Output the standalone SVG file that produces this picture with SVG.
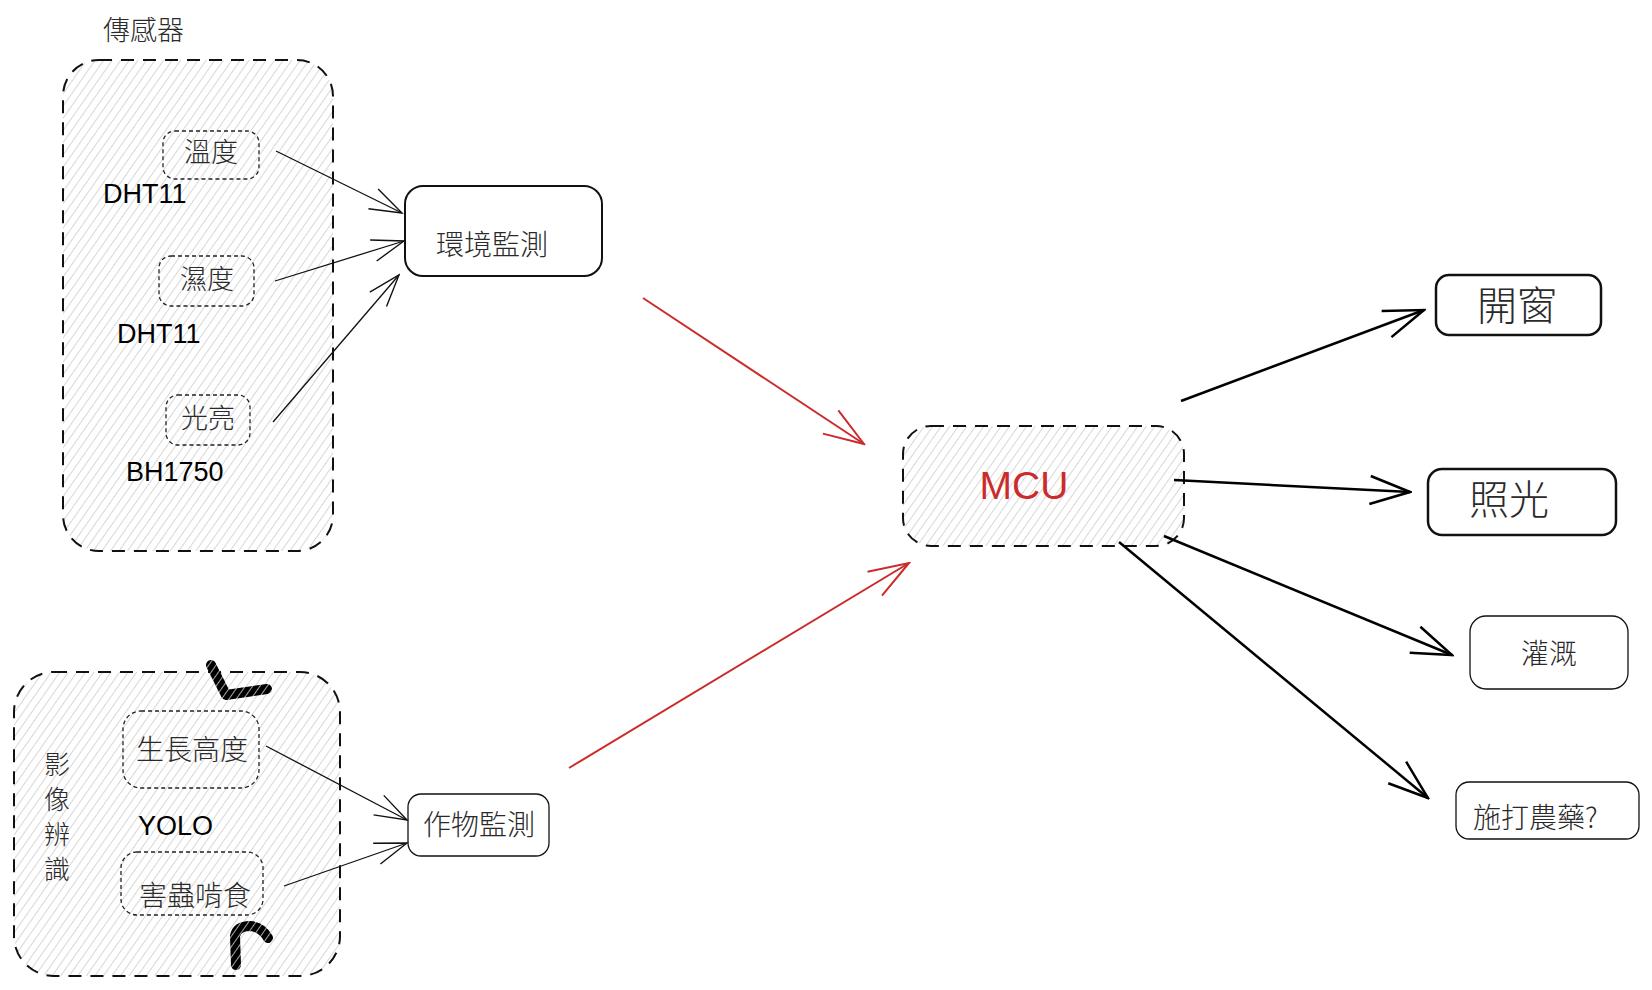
<svg xmlns="http://www.w3.org/2000/svg" width="1652" height="990" viewBox="0 0 1652 990">
<style>
.cjk{font-family:"Noto Sans CJK TC","Noto Sans CJK SC",sans-serif;font-weight:300;fill:#2a2a2a;}
.lat{font-family:"Liberation Sans",Arial,sans-serif;fill:#000;}
.cont{fill:url(#hatch);stroke:#111;stroke-width:2;stroke-dasharray:13 9;}
.inner{fill:none;stroke:#222;stroke-width:1.3;stroke-dasharray:4 3;}
.box{fill:#fff;stroke:#111;}
.thin{fill:none;stroke:#111;stroke-width:1.3;}
.blk{fill:none;stroke:#000;stroke-width:2.5;}
.red{fill:none;stroke:#cc2b2b;stroke-width:2;}
</style>
<defs>
<pattern id="hatch" width="7" height="7" patternUnits="userSpaceOnUse" patternTransform="rotate(35)">
<rect width="7" height="7" fill="#fff"/>
<line x1="0" y1="0" x2="0" y2="7" stroke="#bdbdbd" stroke-width="1.2"/>
</pattern>
<pattern id="hatchDark" width="6" height="6" patternUnits="userSpaceOnUse" patternTransform="rotate(35)">
<rect width="6" height="6" fill="#000"/>
<line x1="0" y1="0" x2="0" y2="6" stroke="#fff" stroke-width="1.3"/>
</pattern>
<marker id="aThin" viewBox="0 0 36 26" refX="34" refY="13" markerWidth="36" markerHeight="26" markerUnits="userSpaceOnUse" orient="auto">
<path d="M2,2 L34,13 L2,24" fill="none" stroke="#111" stroke-width="1.4"/>
</marker>
<marker id="aBlk" viewBox="0 0 44 32" refX="42" refY="16" markerWidth="44" markerHeight="32" markerUnits="userSpaceOnUse" orient="auto">
<path d="M2,2 L42,16 L2,30" fill="none" stroke="#000" stroke-width="2.5"/>
</marker>
<marker id="aRed" viewBox="0 0 44 32" refX="42" refY="16" markerWidth="44" markerHeight="32" markerUnits="userSpaceOnUse" orient="auto">
<path d="M2,2 L42,16 L2,30" fill="none" stroke="#cc2b2b" stroke-width="2"/>
</marker>
</defs>
<rect width="1652" height="990" fill="#fff"/>

<g id="sensors">
<text class="cjk" x="103" y="40" font-size="27">傳感器</text>
<rect class="cont" x="63" y="60" width="270" height="491" rx="36"/>
</g>
<g id="temp">
<rect class="inner" x="163" y="131" width="96" height="48" rx="12"/>
<text class="cjk" x="211" y="162" font-size="27" text-anchor="middle">溫度</text>
<text class="lat" x="103" y="203" font-size="27">DHT11</text>
</g>
<g id="humid">
<rect class="inner" x="159" y="256" width="95" height="50" rx="12"/>
<text class="cjk" x="207" y="289" font-size="27" text-anchor="middle">濕度</text>
<text class="lat" x="117" y="343" font-size="27">DHT11</text>
</g>
<g id="light">
<rect class="inner" x="166" y="395" width="84" height="50" rx="12"/>
<text class="cjk" x="208" y="428" font-size="27" text-anchor="middle">光亮</text>
<text class="lat" x="126" y="481" font-size="27">BH1750</text>
</g>
<g id="env">
<rect class="box" x="405" y="186" width="197" height="90" rx="18" stroke-width="2"/>
<text class="cjk" x="492" y="255" font-size="28" text-anchor="middle">環境監測</text>
</g>

<g id="vision">
<rect class="cont" x="14" y="672" width="326" height="304" rx="40"/>
<text class="cjk" x="57" y="751" font-size="26" writing-mode="vertical-rl" letter-spacing="9">影像辨識</text>
<text class="lat" x="138" y="835" font-size="27">YOLO</text>
<path d="M211,665 L226,695 L267,689" fill="none" stroke="url(#hatchDark)" stroke-width="10" stroke-linecap="round" stroke-linejoin="round"/>
<path d="M236,965 L235,936 Q237,926 250,926 Q262,927 268,938" fill="none" stroke="url(#hatchDark)" stroke-width="10" stroke-linecap="round" stroke-linejoin="round"/>
</g>
<g id="height">
<rect class="inner" x="123" y="711" width="136" height="77" rx="18"/>
<text class="cjk" x="192" y="760" font-size="28" text-anchor="middle">生長高度</text>
</g>
<g id="pest">
<rect class="inner" x="121" y="852" width="142" height="63" rx="16"/>
<text class="cjk" x="195" y="906" font-size="28" text-anchor="middle">害蟲啃食</text>
</g>
<g id="crop">
<rect class="box" x="408" y="794" width="141" height="62" rx="13" stroke-width="1.3"/>
<text class="cjk" x="479" y="835" font-size="28" text-anchor="middle">作物監測</text>
</g>

<g id="mcu">
<rect class="cont" x="903" y="426" width="281" height="120" rx="28"/>
<text class="lat" x="1024" y="499" font-size="39" text-anchor="middle" style="fill:#cc2b2b">MCU</text>
</g>

<g id="window">
<rect class="box" x="1436" y="275" width="165" height="60" rx="13" stroke-width="2.5"/>
<text class="cjk" x="1517" y="320" font-size="40" text-anchor="middle">開窗</text>
</g>
<g id="lighting">
<rect class="box" x="1428" y="469" width="188" height="66" rx="14" stroke-width="2.5"/>
<text class="cjk" x="1509" y="514" font-size="40" text-anchor="middle">照光</text>
</g>
<g id="irrigate">
<rect class="box" x="1470" y="616" width="158" height="73" rx="16" stroke-width="1.3"/>
<text class="cjk" x="1549" y="664" font-size="28" text-anchor="middle">灌溉</text>
</g>
<g id="pesticide">
<rect class="box" x="1456" y="782" width="183" height="57" rx="13" stroke-width="1.3"/>
<text class="cjk" x="1473" y="828" font-size="28">施打農藥?</text>
</g>

<g id="connectors">
<path class="thin" d="M276,151 L402,213" marker-end="url(#aThin)"/>
<path class="thin" d="M275,281 L404,241" marker-end="url(#aThin)"/>
<path class="thin" d="M273,422 L399,275" marker-end="url(#aThin)"/>
<path class="thin" d="M266,746 L407,820" marker-end="url(#aThin)"/>
<path class="thin" d="M284,886 L407,843" marker-end="url(#aThin)"/>
<path class="red" d="M643,298 L864,444" marker-end="url(#aRed)"/>
<path class="red" d="M569,768 L909,563" marker-end="url(#aRed)"/>
<path class="blk" d="M1181,401 L1424,310" marker-end="url(#aBlk)"/>
<path class="blk" d="M1174,480 L1410,492" marker-end="url(#aBlk)"/>
<path class="blk" d="M1164,536 L1452,655" marker-end="url(#aBlk)"/>
<path class="blk" d="M1119,542 L1428,798" marker-end="url(#aBlk)"/>
</g>
</svg>
